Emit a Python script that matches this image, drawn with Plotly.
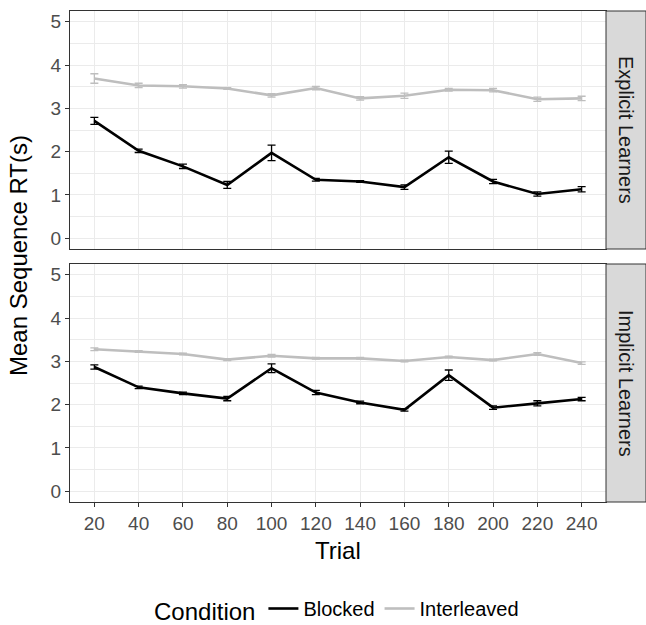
import plotly.graph_objects as go

trials = [20, 40, 60, 80, 100, 120, 140, 160, 180, 200, 220, 240]

# Explicit Learners
exp_blocked = [2.71, 2.02, 1.66, 1.23, 1.97, 1.35, 1.31, 1.18, 1.87, 1.31, 1.02, 1.13]
exp_blocked_err = [0.08, 0.04, 0.05, 0.08, 0.18, 0.03, 0.02, 0.05, 0.14, 0.05, 0.05, 0.06]
exp_inter = [3.69, 3.53, 3.51, 3.46, 3.30, 3.47, 3.23, 3.29, 3.43, 3.42, 3.21, 3.23]
exp_inter_err = [0.11, 0.05, 0.04, 0.02, 0.04, 0.04, 0.04, 0.06, 0.03, 0.04, 0.05, 0.05]

# Implicit Learners
imp_blocked = [2.87, 2.40, 2.26, 2.14, 2.84, 2.28, 2.05, 1.88, 2.68, 1.93, 2.03, 2.13]
imp_blocked_err = [0.05, 0.03, 0.03, 0.05, 0.10, 0.05, 0.03, 0.03, 0.12, 0.04, 0.06, 0.04]
imp_inter = [3.28, 3.23, 3.17, 3.04, 3.13, 3.07, 3.07, 3.01, 3.10, 3.03, 3.17, 2.96]
imp_inter_err = [0.03, 0.02, 0.02, 0.02, 0.03, 0.02, 0.02, 0.02, 0.02, 0.02, 0.03, 0.03]

panels = ["Explicit Learners", "Implicit Learners"]
conditions = ["Blocked", "Interleaved"]
colors = {"Blocked": "#000000", "Interleaved": "#BEBEBE"}

FONT = "Liberation Sans, Arial, Helvetica, sans-serif"

fig = go.Figure()

series = [
    ("x", "y", exp_blocked, exp_blocked_err, "Blocked", True),
    ("x", "y", exp_inter, exp_inter_err, "Interleaved", True),
    ("x2", "y2", imp_blocked, imp_blocked_err, "Blocked", False),
    ("x2", "y2", imp_inter, imp_inter_err, "Interleaved", False),
]
for xa, ya, vals, errs, cond, show in series:
    fig.add_trace(go.Scatter(
        x=trials, y=vals, xaxis=xa, yaxis=ya, mode="lines",
        name=cond, legendgroup=cond, showlegend=show,
        line=dict(color=colors[cond], width=2.6),
        error_y=dict(type="data", array=errs, visible=True,
                     color=colors[cond], thickness=1.3, width=4),
    ))

ml, mr, mt, mb = 70, 0, 11, 123
W, H = 646, 625
pw = W - ml - mr
ph = H - mt - mb
xdom_end = (606 - ml) / pw
top_dom = [(502 - 249) / ph, 1.0]
bot_dom = [0.0, (502 - 264) / ph]

common_x = dict(
    range=[9, 251], tickvals=trials, ticktext=[str(t) for t in trials],
    showgrid=True, gridcolor="#EBEBEB", gridwidth=1.1,
    showline=True, linecolor="#333333", linewidth=1, mirror=True,
    ticks="outside", ticklen=4, tickcolor="#333333", tickwidth=1.1,
    tickfont=dict(family=FONT, size=19, color="#4D4D4D"),
    zeroline=False, domain=[0, xdom_end], automargin=False,
)
common_y = dict(
    range=[-0.25, 5.25], tickvals=[0, 1, 2, 3, 4, 5],
    showgrid=True, gridcolor="#EBEBEB", gridwidth=1.1,
    minor=dict(tickvals=[0.5, 1.5, 2.5, 3.5, 4.5], showgrid=True,
               gridcolor="#EBEBEB", gridwidth=0.6, ticks=""),
    showline=True, linecolor="#333333", linewidth=1, mirror=True,
    ticks="outside", ticklen=4, tickcolor="#333333", tickwidth=1.1,
    tickfont=dict(family=FONT, size=19, color="#4D4D4D"),
    zeroline=False, automargin=False,
)

fig.update_layout(
    width=W, height=H,
    margin=dict(l=ml, r=mr, t=mt, b=mb, autoexpand=False),
    paper_bgcolor="white", plot_bgcolor="white",
    font=dict(family=FONT, color="#000000"),
    xaxis=dict(common_x, anchor="y", showticklabels=False, ticks=""),
    yaxis=dict(common_y, anchor="x", domain=top_dom),
    xaxis2=dict(common_x, anchor="y2"),
    yaxis2=dict(common_y, anchor="x2", domain=bot_dom),
    showlegend=True,
    legend=dict(
        orientation="h", xref="container", yref="container",
        x=338 / W, xanchor="center", y=(H - 610) / H, yanchor="middle",
        title=dict(text="Condition", font=dict(family=FONT, size=24, color="#000000")),
        font=dict(family=FONT, size=20, color="#000000"),
        bgcolor="rgba(0,0,0,0)", itemwidth=30,
    ),
)

# facet strips
for dom, label in zip([top_dom, bot_dom], panels):
    fig.add_shape(type="rect", xref="paper", yref="paper",
                  x0=xdom_end, x1=1.0, y0=dom[0], y1=dom[1],
                  fillcolor="#D9D9D9", line=dict(color="#333333", width=1))
    fig.add_annotation(xref="paper", yref="paper",
                       x=(xdom_end + 1.0) / 2, y=(dom[0] + dom[1]) / 2,
                       xanchor="center", yanchor="middle",
                       text=label, textangle=90, showarrow=False,
                       font=dict(family=FONT, size=20, color="#1A1A1A"))

# axis titles
fig.add_annotation(xref="paper", yref="paper", x=(338 - ml) / pw, y=(502 - 550) / ph,
                   text="Trial", showarrow=False, xanchor="center", yanchor="middle",
                   font=dict(family=FONT, size=24, color="#000000"))
fig.add_annotation(xref="paper", yref="paper", x=(18 - ml) / pw, y=(502 - 256) / ph,
                   text="Mean Sequence RT(s)", textangle=-90, showarrow=False,
                   xanchor="center", yanchor="middle",
                   font=dict(family=FONT, size=24, color="#000000"))

fig.write_html("out.html", config={"displayModeBar": False},
               post_script="document.body.style.margin='0';document.body.style.overflow='hidden';")
